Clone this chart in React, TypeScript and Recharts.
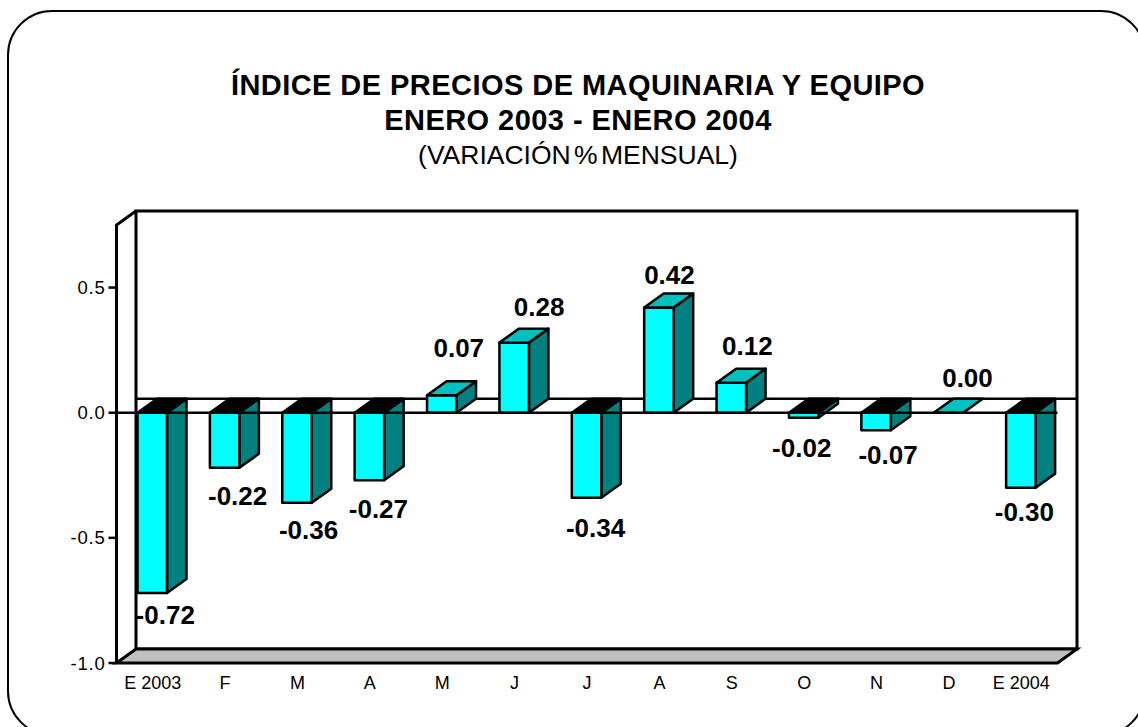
import React from "react";
import {
  BarChart,
  Bar,
  XAxis,
  YAxis,
  LabelList,
  ReferenceLine,
  usePlotArea,
} from "recharts";

const months = ["E 2003", "F", "M", "A", "M", "J", "J", "A", "S", "O", "N", "D", "E 2004"];
const variation = [-0.72, -0.22, -0.36, -0.27, 0.07, 0.28, -0.34, 0.42, 0.12, -0.02, -0.07, 0.0, -0.3];
const yTicks = [-1, -0.5, 0, 0.5];
const yDomain = [-1, 0.75];

const chartData = months.map((month, i) => ({ key: i, month, value: variation[i] }));

// hand placed labels in the original, relative to the end of each bar
const labelShiftX = [13, 13, 11.5, 9, 17, 25, 9, 10.5, 16, -2, 12, 19, 3.5];
const labelShiftY = [22, 28, 27, 28.5, -47.5, -36, 30, -33, -37, 30, 24.5, -35, 24];

const DEPTH_X = 19.5;
const DEPTH_Y = 14;
const FONT = "'Liberation Sans', Arial, sans-serif";

function pts(list: number[][]) {
  return list.map((p) => p.join(",")).join(" ");
}

function Walls() {
  const area = usePlotArea();
  if (!area) return null;
  const left = area.x;
  const right = area.x + area.width;
  const top = area.y;
  const bottom = area.y + area.height;
  const zeroY = top + (yDomain[1] / (yDomain[1] - yDomain[0])) * area.height;
  return (
    <g stroke="#000" fill="none" strokeLinejoin="miter">
      <rect x={left + DEPTH_X} y={top - DEPTH_Y} width={area.width} height={area.height} fill="#fff" strokeWidth={3} />
      <polygon
        points={pts([[left, bottom], [left + DEPTH_X, bottom - DEPTH_Y], [right + DEPTH_X, bottom - DEPTH_Y], [right, bottom]])}
        fill="#c0c0c0"
        strokeWidth={3}
      />
      <polyline
        points={pts([[left + DEPTH_X, top - DEPTH_Y], [left, top], [left, bottom]])}
        strokeWidth={3}
      />
      <line x1={left + DEPTH_X} y1={zeroY - DEPTH_Y} x2={right + DEPTH_X} y2={zeroY - DEPTH_Y} strokeWidth={2.5} />
    </g>
  );
}

function Bar3D(props: any) {
  const { x, y, width, height, payload } = props;
  const y1 = Math.min(y, y + height);
  const y2 = Math.max(y, y + height);
  const isFlat = payload.value === 0;
  const isDown = payload.value < 0;
  const topFill = isDown ? "#000" : "#00c0c0";
  return (
    <g stroke="#000" strokeWidth={2.5} strokeLinejoin="round">
      {!isFlat && (
        <polygon
          points={pts([[x + width, y1], [x + width + DEPTH_X, y1 - DEPTH_Y], [x + width + DEPTH_X, y2 - DEPTH_Y], [x + width, y2]])}
          fill="#008080"
        />
      )}
      {!isFlat && <rect x={x} y={y1} width={width} height={y2 - y1} fill="#00ffff" />}
      <polygon
        points={pts([[x, y1], [x + DEPTH_X, y1 - DEPTH_Y], [x + width + DEPTH_X, y1 - DEPTH_Y], [x + width, y1]])}
        fill={topFill}
      />
    </g>
  );
}

function ValueLabel(props: any) {
  const { x, y, width, height, index, value } = props;
  const end = value < 0 ? Math.max(y, y + height) : Math.min(y, y + height);
  return (
    <text
      x={x + width / 2 + labelShiftX[index]}
      y={end + labelShiftY[index]}
      textAnchor="middle"
      dominantBaseline="central"
      fontFamily={FONT}
      fontWeight="bold"
      fontSize={26}
      fill="#000"
    >
      {value.toFixed(2)}
    </text>
  );
}

const titleStyle: React.CSSProperties = {
  position: "absolute",
  left: 0,
  width: 1156,
  textAlign: "center",
  fontFamily: FONT,
  color: "#000",
  lineHeight: "30px",
  whiteSpace: "nowrap",
};

export default function App() {
  return (
    <div style={{ position: "absolute", left: 0, top: 0, width: 1138, height: 727, overflow: "hidden", background: "#fff" }}>
      <div
        style={{
          position: "absolute",
          left: 7.25,
          top: 10.25,
          width: 1139,
          height: 725.5,
          boxSizing: "border-box",
          border: "2.5px solid #000",
          borderRadius: 45,
        }}
      />
      <div style={{ ...titleStyle, top: 70, fontSize: 29, letterSpacing: 0.45, fontWeight: "bold" }}>ÍNDICE DE PRECIOS DE MAQUINARIA Y EQUIPO</div>
      <div style={{ ...titleStyle, top: 105, fontSize: 29, letterSpacing: 0.45, fontWeight: "bold" }}>ENERO 2003 - ENERO 2004</div>
      <div style={{ ...titleStyle, top: 140, fontSize: 26.5, wordSpacing: -4 }}>(VARIACIÓN % MENSUAL)</div>
      <div style={{ position: "absolute", left: 0, top: 0 }}>
        <BarChart
          width={1138}
          height={727}
          data={chartData}
          margin={{ top: 225, right: 80.5, bottom: 34, left: 36.5 }}
          barSize={29.5}
        >
          <Walls />
          <XAxis
            dataKey="key"
            tickFormatter={(i: number) => months[i]}
            interval={0}
            height={30}
            axisLine={false}
            tickLine={false}
            tickMargin={7}
            tick={{ fill: "#000", fontSize: 18, fontFamily: FONT }}
          />
          <YAxis
            type="number"
            domain={yDomain}
            ticks={yTicks}
            width={80}
            tickFormatter={(v: number) => v.toFixed(1)}
            axisLine={false}
            tickSize={8}
            tickMargin={3}
            tickLine={{ stroke: "#000", strokeWidth: 2.5 }}
            tick={{ fill: "#000", fontSize: 18.5, letterSpacing: 0.8, fontFamily: FONT }}
          />
          <Bar dataKey="value" isAnimationActive={false} shape={<Bar3D />}>
            <LabelList dataKey="value" content={<ValueLabel />} />
          </Bar>
          <ReferenceLine y={0} stroke="#000" strokeWidth={2.5} />
        </BarChart>
      </div>
    </div>
  );
}
